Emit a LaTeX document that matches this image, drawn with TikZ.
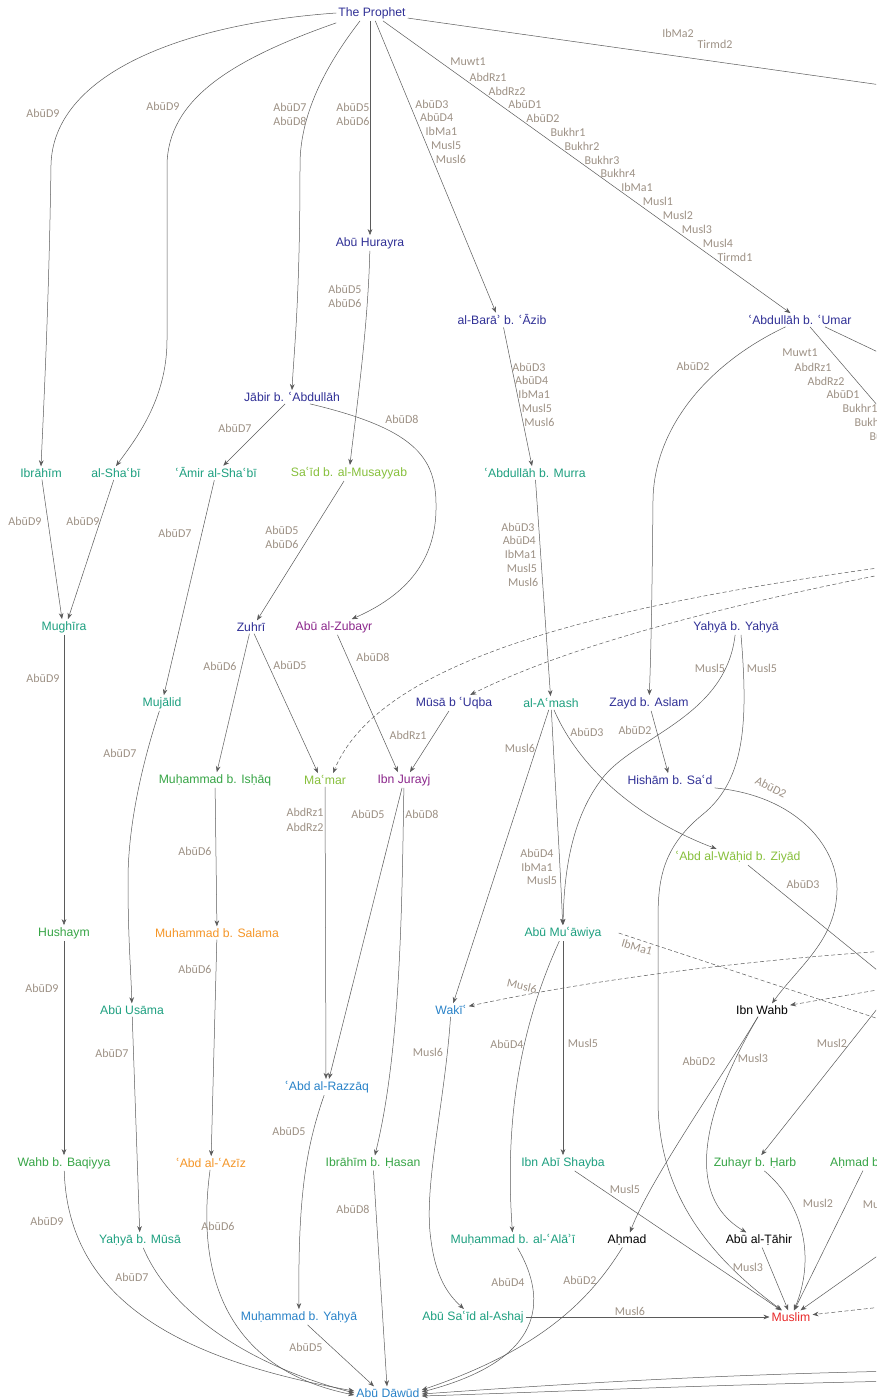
\documentclass[tikz,border=0pt]{standalone}
\usepackage{fontspec}
\setmainfont{Liberation Sans}
\newfontfamily\lblfont{Carlito}
\newfontfamily\dvs{DejaVu Sans}
\usetikzlibrary{arrows.meta}
% transliteration marks
\newcommand\ay{{\dvs\symbol{"02BF}}}
\newcommand\hz{{\dvs\symbol{"02BE}}}
\definecolor{cdblue}{RGB}{48,48,150}
\definecolor{cteal}{RGB}{30,160,128}
\definecolor{cgreen}{RGB}{55,165,70}
\definecolor{clgreen}{RGB}{135,192,60}
\definecolor{cpurple}{RGB}{140,40,140}
\definecolor{corange}{RGB}{245,150,40}
\definecolor{csblue}{RGB}{40,130,200}
\definecolor{cred}{RGB}{232,40,40}
\definecolor{clbl}{RGB}{158,146,134}
\definecolor{cline}{RGB}{90,90,90}
\tikzset{
  nm/.style={font=\fontsize{12.2}{14}\selectfont, inner sep=2pt},
  lbl/.style={font=\lblfont\fontsize{12}{13}\selectfont, text=clbl, inner sep=0pt},
  ed/.style={draw=cline, line width=0.5pt, -{Stealth[length=6pt,width=4.6pt]}},
  dd/.style={ed, dash pattern=on 4pt off 2.5pt},
  pl/.style={draw=cline, line width=0.5pt},
}
\newcounter{lb}
\newcommand\lb[2]{\stepcounter{lb}\node[lbl] (lb\arabic{lb}) at (#1) {#2};}
\newcommand\lbr[3]{\stepcounter{lb}\node[lbl,rotate=#3] (lb\arabic{lb}) at (#1) {#2};}
\begin{document}
\begin{tikzpicture}[x=1pt,y=-1pt]
\useasboundingbox (0,0) rectangle (876,1399);
\clip (0,0) rectangle (876,1399);
\fill[white] (0,0) rectangle (876,1399);

% ---------- transmitters ----------
\node[nm,text=cdblue] (prophet) at (372,13) {The Prophet};
\node[nm,text=cdblue] (hurayra) at (370,243) {Abū Hurayra};
\node[nm,text=cdblue] (bara) at (502,320) {al-Barā\hz{} b. \ay Āzib};
\node[nm,text=cdblue] (umar) at (800,320) {\ay Abdullāh b. \ay Umar};
\node[nm,text=cdblue] (jabir) at (292,397) {Jābir b. \ay Abdullāh};
\node[nm,text=cteal] (ibrahim) at (41,473) {Ibrāhīm};
\node[nm,text=cteal] (shabi) at (116,473) {al-Sha\ay bī};
\node[nm,text=cteal] (amir) at (216,473) {\ay Āmir al-Sha\ay bī};
\node[nm,text=clgreen] (said) at (349,473) {Sa\ay īd b. al-Musayyab};
\node[nm,text=cteal] (murra) at (535,473) {\ay Abdullāh b. Murra};
\node[nm,text=cteal] (mughira) at (64,627) {Mughīra};
\node[nm,text=cdblue] (zuhri) at (251,627) {Zuhrī};
\node[nm,text=cpurple] (zubayr) at (334,627) {Abū al-Zubayr};
\node[nm,text=cdblue] (yahya) at (736,627) {Yaḥyā b. Yaḥyā};
\node[nm,text=cteal] (mujalid) at (162,703) {Mujālid};
\node[nm,text=cdblue] (musa) at (454,703) {Mūsā b \ay Uqba};
\node[nm,text=cteal] (amash) at (551,703) {al-A\ay mash};
\node[nm,text=cdblue] (zayd) at (649,703) {Zayd b. Aslam};
\node[nm,text=cgreen] (ishaq) at (215,780) {Muḥammad b. Isḥāq};
\node[nm,text=clgreen] (mamar) at (325,780) {Ma\ay mar};
\node[nm,text=cpurple] (jurayj) at (404,780) {Ibn Jurayj};
\node[nm,text=cdblue] (hisham) at (670,780) {Hishām b. Sa\ay d};
\node[nm,text=clgreen] (wahid) at (738,857) {\ay Abd al-Wāḥid b. Ziyād};
\node[nm,text=cgreen] (hushaym) at (64,933) {Hushaym};
\node[nm,text=corange] (salama) at (217,933) {Muhammad b. Salama};
\node[nm,text=cteal] (muawiya) at (563,933) {Abū Mu\ay āwiya};
\node[nm,text=cteal] (usama) at (132,1010) {Abū Usāma};
\node[nm,text=csblue] (waki) at (451,1010) {Wakī\ay};
\node[nm,text=black] (wahb) at (762,1010) {Ibn Wahb};
\node[nm,text=csblue] (razzaq) at (327,1087) {\ay Abd al-Razzāq};
\node[nm,text=cgreen] (baqiyya) at (64,1163) {Wahb b. Baqiyya};
\node[nm,text=corange] (aziz) at (211,1163) {\ay Abd al-\ay Azīz};
\node[nm,text=cgreen] (hasan) at (373,1163) {Ibrāhīm b. Ḥasan};
\node[nm,text=cteal] (shayba) at (563,1163) {Ibn Abī Shayba};
\node[nm,text=cgreen] (zuhayr) at (755,1163) {Zuhayr b. Ḥarb};
\node[nm,text=cgreen,anchor=west] (hanbal) at (828,1163) {Aḥmad b. Ḥanbal};
\node[nm,text=cteal] (ymusa) at (140,1240) {Yaḥyā b. Mūsā};
\node[nm,text=cteal] (ala) at (513,1240) {Muḥammad b. al-\ay Alā\hz ī};
\node[nm,text=black] (ahmad) at (627,1240) {Aḥmad};
\node[nm,text=black] (tahir) at (759,1240) {Abū al-Ṭāhir};
\node[nm,text=csblue] (myahya) at (299,1317) {Muḥammad b. Yaḥyā};
\node[nm,text=cteal] (ashaj) at (473,1317) {Abū Sa\ay īd al-Ashaj};
\node[nm,text=cred] (muslim) at (791,1317) {Muslim};
\node[nm,text=csblue] (dawud) at (388,1393) {Abū Dāwūd};

% ends of chains that continue beyond the right margin
\coordinate (offP) at (1100,116);
\coordinate (offU1) at (1000,548);
\coordinate (offU2) at (1000,410);
\coordinate (offD1) at (900,565);
\coordinate (offD2) at (900,571);
\coordinate (offW) at (1000,1070);
\coordinate (offM) at (1000,1059);
\coordinate (offWk) at (900,950);
\coordinate (offWb) at (900,986);
\coordinate (offZ) at (900,980);
\coordinate (offR1) at (900,1240);
\coordinate (offR2) at (900,1305);
\coordinate (offA1) at (900,1371);
\coordinate (offA2) at (900,1381);

% ---------- from the Prophet ----------
\draw[ed] (prophet.west) .. controls (180,24) and (53,75) .. (51,165)
  .. controls (49,300) and (44,400) .. (ibrahim.north);
\draw[ed] ([yshift=-2pt]prophet.south west) .. controls (230,60) and (168,100) .. (167,165)
  -- (167,340) .. controls (167,400) and (135,440) .. (shabi.north);
\draw[ed] ([xshift=-12pt]prophet.south) .. controls (330,60) and (300,110) .. (300,165)
  .. controls (300,300) and (294,350) .. (jabir.north);
\draw[ed] ([xshift=-2pt]prophet.south) -- ([xshift=0pt]hurayra.north);
\draw[ed] (prophet) -- ([xshift=-6pt]bara.north);
\draw[ed] (prophet) -- (umar);
\draw[pl] (prophet) -- (offP);

\lb{43,113}{AbūD9}
\lb{163,106}{AbūD9}
\lb{290,107}{AbūD7}
\lb{290,121}{AbūD8}
\lb{353,107}{AbūD5}
\lb{353,121}{AbūD6}
\foreach \t [count=\i from 0] in {AbūD3,AbūD4,IbMa1,Musl5,Musl6}
  {\lb{{432+\i*4.7},{104+\i*13.8}}{\t}}
\lb{468,62}{Muwt1}
\lb{488,77}{AbdRz1}
\lb{507,91}{AbdRz2}
\lb{525,104}{AbūD1}
\lb{543,118}{AbūD2}
\lb{568,132}{Bukhr1}
\lb{582,146}{Bukhr2}
\lb{602,160}{Bukhr3}
\lb{618,173}{Bukhr4}
\lb{637,187}{IbMa1}
\lb{658,201}{Musl1}
\lb{678,215}{Musl2}
\lb{697,229}{Musl3}
\lb{718,243}{Musl4}
\lb{735,257}{Tirmd1}
\lb{678,33}{IbMa2}
\lb{715,44}{Tirmd2}

% ---------- Companions to Successors ----------
\draw[ed] (hurayra) .. controls (368,330) and (355,420) .. (said);
\lb{345,289}{AbūD5}
\lb{345,303}{AbūD6}
\draw[ed] (bara) -- ([xshift=-3pt]murra.north);
\foreach \t [count=\i from 0] in {AbūD3,AbūD4,IbMa1,Musl5,Musl6}
  {\lb{{529+\i*2.6},{367+\i*13.8}}{\t}}
\draw[ed] (umar) .. controls (705,365) and (654,430) .. (653,500)
  .. controls (652,600) and (651,650) .. (zayd);
\lb{693,366}{AbūD2}
\draw[pl] ([xshift=10pt]umar.south) -- (offU1);
\draw[pl] ([xshift=25pt]umar.south) -- (offU2);
\lb{800,353}{Muwt1}
\lb{813,367}{AbdRz1}
\lb{826,381}{AbdRz2}
\lb{843,394}{AbūD1}
\lb{860,408}{Bukhr1}
\lb{872,422}{Bukhr2}
\lb{887,436}{Bukhr3}
\draw[ed] (jabir) -- (amir);
\lb{235,428}{AbūD7}
\draw[ed] ([xshift=18pt]jabir.south) .. controls (420,430) and (437,460) .. (436,510)
  .. controls (435,570) and (395,600) .. (zubayr);
\lb{402,419}{AbūD8}

% ---------- Successors ----------
\draw[ed] (ibrahim) -- ([xshift=-2pt]mughira.north);
\draw[ed] (shabi) -- ([xshift=4pt]mughira.north);
\lb{25,521}{AbūD9}
\lb{83,521}{AbūD9}
\draw[ed] (amir) -- (mujalid);
\lb{175,533}{AbūD7}
\draw[ed] (said) -- ([xshift=6pt]zuhri.north);
\lb{282,530}{AbūD5}
\lb{282,544}{AbūD6}
\draw[ed] (murra) -- (amash);
\foreach \t [count=\i from 0] in {AbūD3,AbūD4,IbMa1,Musl5,Musl6}
  {\lb{{518+\i*1.3},{527+\i*13.8}}{\t}}

\draw[dd] (offD1) .. controls (600,605) and (380,660) .. ([xshift=8pt]mamar.north);
\draw[dd] (offD2) .. controls (700,610) and (560,650) .. (musa);

\draw[ed] (mughira) -- (hushaym);
\lb{43,678}{AbūD9}
\draw[ed] (zuhri) -- (ishaq);
\lb{220,666}{AbūD6}
\draw[ed] (zuhri) -- ([xshift=-7pt]mamar.north);
\lb{290,665}{AbūD5}
\draw[ed] (zubayr) -- ([xshift=-6pt]jurayj.north);
\lb{373,657}{AbūD8}
\draw[ed] (musa) -- ([xshift=6pt]jurayj.north);
\lb{408,735}{AbdRz1}
\draw[ed] (mujalid) .. controls (140,770) and (128,830) .. (128,880)
  .. controls (128,940) and (131,970) .. (usama);
\lb{120,753}{AbūD7}

\draw[ed] (yahya) .. controls (726,715) and (640,735) .. (605,775)
  .. controls (576,810) and (564,860) .. (muawiya);
\lb{710,668}{Musl5}
\draw[ed] ([xshift=5pt]yahya.south) .. controls (748,720) and (746,780) .. (702,815)
  .. controls (662,848) and (658,880) .. (658,920) -- (658,1100)
  .. controls (658,1185) and (700,1250) .. (muslim);
\lb{762,668}{Musl5}

\draw[ed] (zayd) -- (hisham);
\lb{635,730}{AbūD2}
\draw[ed] ([yshift=-1pt]hisham.south east) .. controls (800,796) and (838,850) .. (837,890)
  .. controls (836,940) and (800,965) .. ([xshift=10pt]wahb.north);
\lbr{771,787}{AbūD2}{-27}

\draw[ed] (amash) -- (waki);
\lb{520,748}{Musl6}
\draw[ed] (amash) .. controls (556,800) and (560,860) .. (muawiya);
\lb{537,853}{AbūD4}
\lb{537,867}{IbMa1}
\lb{542,880}{Musl5}
\draw[ed] (amash) .. controls (580,770) and (640,820) .. (wahid);
\lb{587,732}{AbūD3}
\draw[pl] (wahid) -- (offW);
\lb{803,884}{AbūD3}

% ---------- third generation ----------
\draw[dd] ([xshift=15pt]muawiya.east) -- (offM);
\lbr{637,947}{IbMa1}{-16}
\draw[dd] (offWk) .. controls (750,960) and (600,978) .. (waki);
\lbr{522,986}{Musl6}{-13}
\draw[dd] (offWb) -- (wahb);
\draw[ed] (offZ) -- (zuhayr);
\lb{832,1043}{Musl2}

\draw[ed] (muawiya) .. controls (528,1010) and (503,1100) .. (ala);
\lb{507,1044}{AbūD4}
\draw[ed] (muawiya) -- (shayba);
\lb{583,1043}{Musl5}
\draw[ed] (waki) .. controls (445,1100) and (425,1180) .. (430,1232)
  .. controls (434,1272) and (445,1292) .. (ashaj);
\lb{428,1052}{Musl6}

\draw[ed] (wahb) .. controls (720,1080) and (650,1180) .. (ahmad);
\lb{699,1061}{AbūD2}
\draw[ed] (wahb) .. controls (715,1090) and (675,1190) .. (tahir);
\lb{753,1058}{Musl3}

\draw[ed] (hushaym) -- (baqiyya);
\lb{42,988}{AbūD9}
\draw[ed] (usama) -- (ymusa);
\lb{112,1053}{AbūD7}
\draw[ed] (ishaq) -- (salama);
\lb{195,851}{AbūD6}
\draw[ed] (salama) -- (aziz);
\lb{195,969}{AbūD6}
\draw[ed] (mamar) -- ([xshift=-1pt]razzaq.north);
\lb{305,812}{AbdRz1}
\lb{305,827}{AbdRz2}
\draw[ed] (jurayj) -- ([xshift=2pt]razzaq.north);
\lb{368,814}{AbūD5}
\draw[ed] (jurayj) .. controls (402,900) and (401,1050) .. (hasan);
\lb{422,814}{AbūD8}
\draw[ed] (razzaq) .. controls (305,1150) and (298,1200) .. (myahya);
\lb{289,1131}{AbūD5}

% ---------- into Muslim ----------
\draw[ed] (shayba) -- (muslim);
\lb{625,1189}{Musl5}
\draw[ed] (zuhayr) .. controls (805,1205) and (815,1260) .. (muslim);
\lb{818,1203}{Musl2}
\draw[ed] ([xshift=35pt]hanbal.south west) -- (muslim);
\lb{878,1204}{Musl4}
\draw[ed] (offR1) -- (muslim);
\draw[dd] (offR2) -- (muslim);
\draw[ed] (tahir) -- (muslim);
\lb{748,1267}{Musl3}
\draw[ed] (ashaj) -- (muslim);
\lb{630,1311}{Musl6}

% ---------- into Abū Dāwūd ----------
\draw[ed] (ahmad) .. controls (590,1300) and (540,1350) .. ([yshift=3pt]dawud.east);
\lb{580,1280}{AbūD2}
\draw[ed] (ala) .. controls (548,1300) and (545,1360) .. ([yshift=1pt]dawud.east);
\lb{508,1282}{AbūD4}
\draw[ed] (offA1) .. controls (700,1375) and (550,1385) .. ([yshift=-1pt]dawud.east);
\draw[ed] (offA2) .. controls (700,1385) and (550,1392) .. ([yshift=-3pt]dawud.east);
\draw[ed] (baqiyya) .. controls (68,1300) and (180,1360) .. ([yshift=2pt]dawud.west);
\lb{47,1221}{AbūD9}
\draw[ed] (ymusa) .. controls (165,1300) and (230,1360) .. ([yshift=0pt]dawud.west);
\lb{132,1277}{AbūD7}
\draw[ed] (aziz) .. controls (195,1280) and (230,1370) .. ([yshift=-2pt]dawud.west);
\lb{218,1226}{AbūD6}
\draw[ed] (myahya) -- ([xshift=-14pt]dawud.north);
\lb{306,1347}{AbūD5}
\draw[ed] (hasan) -- ([xshift=-1pt]dawud.north);
\lb{353,1209}{AbūD8}
\end{tikzpicture}
\end{document}
